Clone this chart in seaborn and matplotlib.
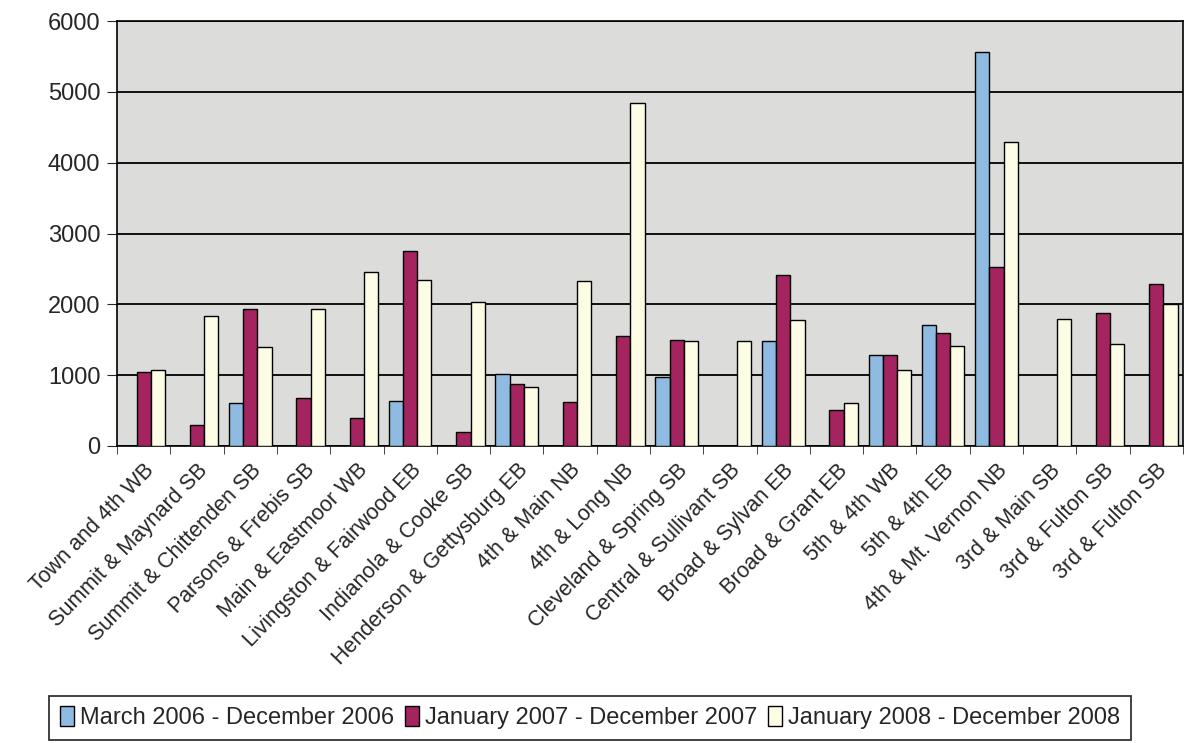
import numpy as np
import pandas as pd
import matplotlib
matplotlib.use('Agg')
import matplotlib.pyplot as plt
import seaborn as sns

# 교차로 (마지막 두 개는 이름이 같음)
locations = [
    'Town and 4th WB', 'Summit & Maynard SB', 'Summit & Chittenden SB',
    'Parsons & Frebis SB', 'Main & Eastmoor WB', 'Livingston & Fairwood EB',
    'Indianola & Cooke SB', 'Henderson & Gettysburg EB', '4th & Main NB',
    '4th & Long NB', 'Cleveland & Spring SB', 'Central & Sullivant SB',
    'Broad & Sylvan EB', 'Broad & Grant EB', '5th & 4th WB', '5th & 4th EB',
    '4th & Mt. Vernon NB', '3rd & Main SB', '3rd & Fulton SB', '3rd & Fulton SB',
]
series_names = ['March 2006 - December 2006',
                'January 2007 - December 2007',
                'January 2008 - December 2008']
# None = 해당 기간 데이터 없음
vals_2006 = [None, None, 600, None, None, 640, None, 1010, None, None,
             980, None, 1480, None, 1290, 1710, 5560, None, None, None]
vals_2007 = [1050, 290, 1930, 680, 400, 2760, 190, 870, 620, 1560,
             1500, None, 2410, 510, 1290, 1600, 2530, None, 1880, 2290]
vals_2008 = [1070, 1840, 1400, 1930, 2450, 2350, 2040, 830, 2330, 4850,
             1480, 1480, 1780, 600, 1070, 1410, 4300, 1790, 1440, 2010]
colors = ['#8fbbe3', '#a3245e', '#fdfde6']

rows = []
for name, vals in zip(series_names, [vals_2006, vals_2007, vals_2008]):
    for i, v in enumerate(vals):
        rows.append({'pos': i, 'period': name,
                     'count': np.nan if v is None else v})
df = pd.DataFrame(rows)

sns.set_style('white')
plt.rcParams['font.family'] = ['Liberation Sans', 'DejaVu Sans']

fig = plt.figure(figsize=(11.87, 7.43), dpi=100)
ax = fig.add_axes([0.0986, 0.3998, 0.898, 0.5717])
ax.set_facecolor('#dcdcda')

sns.barplot(data=df, x='pos', y='count', hue='period', hue_order=series_names,
            palette=colors, width=0.8, edgecolor='black', linewidth=1.0,
            saturation=1, ax=ax, legend=True, zorder=3)

ax.set_ylim(0, 6000)
ax.set_xlim(-0.5, len(locations) - 0.5)
ax.set_yticks(np.arange(0, 6001, 1000))
ax.yaxis.grid(True, color='black', linewidth=1.3, zorder=0)
ax.set_axisbelow(True)
ax.tick_params(axis='y', labelsize=17, length=7, direction='out', left=True,
               pad=5)

ax.set_xticks(range(len(locations)))
ax.set_xticklabels(locations, rotation=46, ha='right', rotation_mode='anchor',
                   fontsize=15.5)
ax.tick_params(axis='x', length=0, pad=10)
ax.set_xticks(np.arange(-0.5, len(locations), 1), minor=True)
ax.tick_params(axis='x', which='minor', length=6, direction='out', bottom=True)
ax.set_xlabel('')
ax.set_ylabel('')

for side in ['top', 'right', 'left', 'bottom']:
    ax.spines[side].set_visible(True)
    ax.spines[side].set_color('black')
    ax.spines[side].set_linewidth(1.2)

handles, labels = ax.get_legend_handles_labels()
ax.legend_.remove()
leg = fig.legend(handles, labels, loc='center', bbox_to_anchor=(0.497, 0.034),
                 ncol=3, fontsize=17, frameon=True, fancybox=False,
                 edgecolor='black', handlelength=0.6, handleheight=0.9,
                 handletextpad=0.25, columnspacing=0.45, borderpad=0.45)
leg.get_frame().set_linewidth(1.3)

fig.savefig('out.png', dpi=100)
